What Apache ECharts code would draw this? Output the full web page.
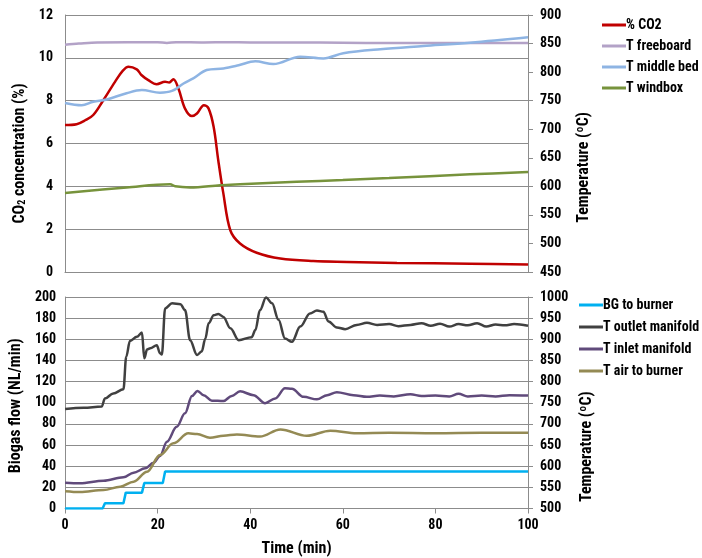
<!DOCTYPE html>
<html><head><meta charset="utf-8">
<script src="https://cdn.jsdelivr.net/npm/echarts@6/dist/echarts.min.js"></script>
<style>html,body{margin:0;padding:0;background:#fff}#c{width:702px;height:558px}</style>
</head><body><div id="c"></div>
<script>
// ---- Data (time in min) ----
const xTicks = [0, 20, 40, 60, 80, 100];

const co2 = [[0,6.86],[2.5,6.9],[4.5,7.1],[6.1,7.33],[8.3,8.03],[10.8,8.88],[12.5,9.4],[13.7,9.58],[15.5,9.46],[16.5,9.2],[18.0,8.96],[19.8,8.77],[21.6,8.88],[22.5,8.85],[23.4,9.0],[24.5,8.57],[25.9,7.64],[27.4,7.28],[28.5,7.4],[30.0,7.79],[31.0,7.64],[32.1,6.78],[33.1,5.22],[34.2,3.67],[35.7,1.95],[37.8,1.33],[41.4,0.9],[46.5,0.63],[53.6,0.51],[60.9,0.47],[71.7,0.42],[87.5,0.39],[100,0.35]];
const tFreeboard = [[0,848],[3,850],[7,852],[20,852.5],[22,851],[24,852.5],[30,852],[35,852.5],[40,852],[50,852],[60,851.5],[70,851],[80,851],[90,851],[100,851]];
const tMiddleBed = [[0,746],[3.6,742],[6.1,748],[9.0,752],[13.3,763],[16.6,768.5],[20.5,764],[23.1,767],[25.6,780],[27.7,789],[30.6,803.6],[34.2,806.5],[37.5,812],[41.1,819],[45.0,814],[50.8,827],[55.8,824],[60.1,833],[68.1,840],[77.4,845.6],[87.5,851.5],[100,861]];
const tWindbox = [[0,588.5],[13.3,598],[22.7,603.7],[23.8,600],[27,598],[33.5,602],[37.8,603.7],[50,608],[60,611],[70,614.5],[87.5,621],[100,625]];

const bgBurner = [[0,0],[8.1,0],[8.6,5],[12.6,5],[13.1,15],[16.6,15],[17.1,24],[21.1,24],[21.6,35],[100,35]];
const tOutlet = [[0,735],[4,738],[7.9,741],[8.6,760],[10.4,772],[12.6,782],[13.2,859],[14.0,896],[15.5,906],[16.6,916],[17.1,855],[17.7,876],[18.4,879],[19.8,886],[20.5,867],[20.9,864],[21.6,973],[23.1,985],[24.9,983],[25.9,969],[27.0,898],[28.5,863],[29.5,871],[30.3,902],[31.0,938],[32.1,957],[33.1,960],[34.2,953],[35.7,926],[37.5,898],[40.3,905],[41.1,922],[42.1,969],[43.4,999],[44.7,985],[46.1,946],[47.5,902],[49.0,894],[50.8,930],[52.9,961],[54.4,968],[55.8,965],[56.9,942],[58.7,928],[60.5,924],[63.0,934],[65.2,939],[67.4,934],[70,936],[72,931],[74.6,934],[77,938],[79,932],[81,937],[83,930],[85,936],[87,933],[89,938],[91,930],[93,935],[95,933],[97,936],[100,932]];
const tInlet = [[0,561],[3.2,559.6],[8.3,565.7],[12.6,573.8],[14.8,584.6],[17.3,595],[19.1,608],[20.5,624],[22.0,658],[24.1,693],[25.9,725],[27.4,766],[28.6,778],[29.9,768],[31.7,755],[34.2,754],[36.0,766],[37.8,777],[40.7,768],[43.2,749],[45.4,760],[47.5,784],[49.0,783],[51.5,764],[54.4,758],[56.6,768],[58.7,775],[62.3,768],[65.2,764],[68,767],[71,765],[74.6,770],[77,766],[80,767],[83,765],[85,771],[87,765],[90,767],[93,765],[96,768],[100,767]];
const tAir = [[0,541],[3.2,539],[8.3,543.7],[11.9,551.6],[14.8,563.4],[17.7,587],[20.5,626.5],[23.4,654],[26.6,677.8],[28.5,676],[31.3,667],[34.2,672],[37.1,675],[42.1,670],[46.5,687],[52.2,672],[57.3,684],[63.0,678],[70,679],[80,678],[90,679],[100,679]];

const FONT = "'Liberation Sans Narrow', 'Roboto Condensed', Roboto, sans-serif";
const grey = '#8c8c8c';
const lbl = {color:'#000', fontFamily:FONT, fontWeight:'bold', fontSize:14};
const nameSt = {color:'#000', fontFamily:FONT, fontWeight:'bold', fontSize:16};

function xAx(idx, show){
  return {type:'value', gridIndex:idx, min:0, max:100, interval:20,
    axisLine:{show:true, lineStyle:{color:grey}},
    axisTick:{show:show, length:5, lineStyle:{color:grey}},
    axisLabel:Object.assign({show:show, margin:10}, lbl),
    splitLine:{show:false},
    name: show ? 'Time (min)' : '', nameLocation:'middle', nameGap:32, nameTextStyle:nameSt};
}
function yAx(idx, pos, min, max, interval, name, gap, split, margin, shift){
  return {type:'value', gridIndex:idx, position:pos, min:min, max:max, interval:interval,
    axisLine:{show:true, lineStyle:{color:grey}},
    axisTick:{show:pos==='right', length:5, lineStyle:{color:grey}},
    axisLabel:Object.assign({margin:margin, formatter:v=>String(v)}, lbl),
    splitLine:{show:split, lineStyle:{color:grey, width:1}},
    name:name, nameLocation:'middle', nameGap:gap, nameRotate:90,
    nameTextStyle:Object.assign({padding:[0, 2*shift, 0, 0],
      rich:{a:{fontFamily:FONT,fontWeight:'bold',fontSize:16,color:'#000'}, s:{fontFamily:FONT,fontWeight:'bold',fontSize:10,color:'#000',padding:[6,0,0,0]}}}, nameSt)};
}
function ln(name, data, x, y, color, mono){
  const s = {name:name, type:'line', xAxisIndex:x, yAxisIndex:y, data:data, showSymbol:false,
    smooth:0.35, lineStyle:{color:color, width:2.5}, itemStyle:{color:color}};
  if (mono) s.smoothMonotone = 'x';
  return s;
}

const chart = echarts.init(document.getElementById('c'));
chart.setOption({
  animation:false,
  backgroundColor:'#fff',
  grid:[{left:65, top:15, width:463, height:257},
        {left:65, top:297, width:463, height:211.5}],
  xAxis:[xAx(0,false), xAx(1,true)],
  yAxis:[
    yAx(0,'left',0,12,2,'{a|CO}{s|2}{a| concentration (%)}',36,true,12,10),
    yAx(0,'right',450,900,50,'Temperature (ºC)',48,false,12,24),
    yAx(1,'left',0,200,20,'Biogas flow (NL/min)',36,true,9,3),
    yAx(1,'right',500,1000,50,'Temperature (ºC)',48,false,12,44)
  ],
  legend:[
    {orient:'vertical', left:597, top:13, itemWidth:24, itemHeight:3, itemGap:7, icon:'rect',
     textStyle:Object.assign({padding:[0,0,0,-5]}, lbl),
     data:['% CO2','T freeboard','T middle bed','T windbox']},
    {orient:'vertical', left:574, top:293, itemWidth:24, itemHeight:3, itemGap:8, icon:'rect',
     textStyle:Object.assign({padding:[0,0,0,-5]}, lbl),
     data:['BG to burner','T outlet manifold','T inlet manifold','T air to burner']}
  ],
  series:[
    ln('% CO2', co2, 0, 0, '#C00000', false),
    ln('T freeboard', tFreeboard, 0, 1, '#B3A2C7', false),
    ln('T middle bed', tMiddleBed, 0, 1, '#8EB4E3', false),
    ln('T windbox', tWindbox, 0, 1, '#77933C', false),
    Object.assign(ln('BG to burner', bgBurner, 1, 2, '#00B0F0', false), {smooth:false}),
    ln('T outlet manifold', tOutlet, 1, 3, '#404040', true),
    ln('T inlet manifold', tInlet, 1, 3, '#604A7B', true),
    ln('T air to burner', tAir, 1, 3, '#948A54', true)
  ]
});
</script></body></html>
